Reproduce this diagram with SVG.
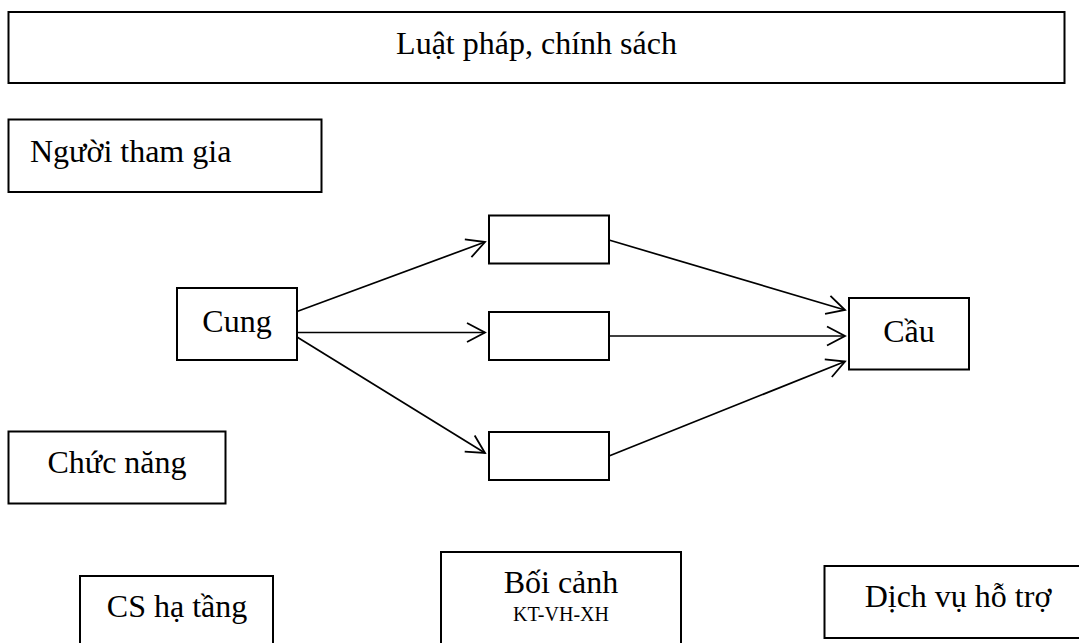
<svg xmlns="http://www.w3.org/2000/svg" width="1079" height="643" viewBox="0 0 1079 643">
  <defs>
    <marker id="open-arrow" markerUnits="userSpaceOnUse" markerWidth="24" markerHeight="24" viewBox="-21 -12 24 24" refX="0" refY="0" orient="auto">
      <path d="M-18,-9.5 L0,0 L-18,9.5" fill="none" stroke="#000" stroke-width="1.8"/>
    </marker>
  </defs>
  <style>
    .box { fill: #fff; stroke: #000; stroke-width: 2; }
    .label { font-family: "Liberation Serif", "Times New Roman", serif; font-size: 32px; fill: #000; }
    .small { font-family: "Liberation Serif", "Times New Roman", serif; font-size: 20px; fill: #000; }
    .mid { text-anchor: middle; }
    .link { fill: none; stroke: #000; stroke-width: 1.7; marker-end: url(#open-arrow); }
  </style>
  <rect width="1079" height="643" fill="#fff"/>

  <g id="luat-phap">
    <rect class="box" x="8.5" y="12" width="1056" height="71"/>
    <text class="label mid" x="536.5" y="54">Luật pháp, chính sách</text>
  </g>

  <g id="nguoi-tham-gia">
    <rect class="box" x="8.5" y="119.5" width="313" height="72.5"/>
    <text class="label" x="30" y="162">Người tham gia</text>
  </g>

  <g id="cung">
    <rect class="box" x="177" y="288" width="120" height="72"/>
    <text class="label mid" x="237" y="332">Cung</text>
  </g>

  <g id="kenh-1">
    <rect class="box" x="489" y="215.5" width="120" height="48"/>
  </g>
  <g id="kenh-2">
    <rect class="box" x="489" y="312" width="120" height="48"/>
  </g>
  <g id="kenh-3">
    <rect class="box" x="489" y="432" width="120" height="48"/>
  </g>

  <g id="cau">
    <rect class="box" x="849" y="298" width="120" height="71.5"/>
    <text class="label mid" x="909" y="342">Cầu</text>
  </g>

  <g id="chuc-nang">
    <rect class="box" x="8.5" y="431.5" width="217" height="72"/>
    <text class="label mid" x="117" y="473">Chức năng</text>
  </g>

  <g id="cs-ha-tang">
    <rect class="box" x="80" y="576" width="193" height="90"/>
    <text class="label mid" x="177" y="617">CS hạ tầng</text>
  </g>

  <g id="boi-canh">
    <rect class="box" x="441" y="552" width="240" height="110"/>
    <text class="label mid" x="561" y="592.5">Bối cảnh</text>
    <text class="small mid" x="561" y="620.5">KT-VH-XH</text>
  </g>

  <g id="dich-vu-ho-tro">
    <rect class="box" x="824.5" y="566" width="268" height="72"/>
    <text class="label mid" x="958" y="607">Dịch vụ hỗ trợ</text>
  </g>

  <g id="connectors">
    <line class="link" x1="297" y1="311.5" x2="485" y2="242"/>
    <line class="link" x1="297" y1="332.5" x2="485" y2="332.5"/>
    <line class="link" x1="297" y1="337" x2="485" y2="453"/>
    <line class="link" x1="609" y1="240" x2="845" y2="310"/>
    <line class="link" x1="609" y1="336" x2="845" y2="336"/>
    <line class="link" x1="609" y1="456" x2="845" y2="361.5"/>
  </g>
</svg>
